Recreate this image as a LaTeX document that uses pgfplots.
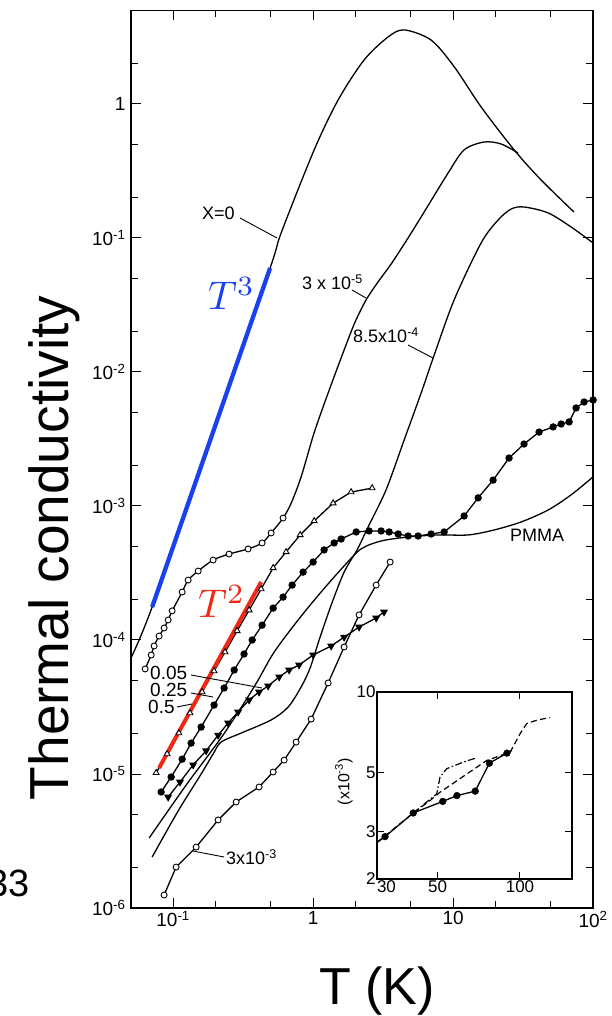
\documentclass[border=0pt]{standalone}
\usepackage{graphicx}
\usepackage{fontspec}
\setmainfont{Liberation Sans}
\usepackage{pgfplots}
\pgfplotsset{compat=1.18}
\definecolor{tblue}{RGB}{25,65,240}
\definecolor{tred}{RGB}{240,40,20}
\newcommand{\fs}[1]{\fontsize{#1}{#1}\selectfont}
\newcommand{\tlab}[1]{\fontsize{19}{19}\selectfont #1}
\newcommand{\ilab}[1]{\fontsize{17}{17}\selectfont #1}
\begin{document}
\begin{tikzpicture}[x=1pt,y=1pt]
\path[use as bounding box] (0,0) rectangle (611,1016);
\begin{axis}[
  at={(131pt,108pt)}, anchor=south west,
  scale only axis, width=462.1pt, height=897.7pt,
  xmode=log, ymode=log,
  xmin=0.05, xmax=100, ymin=1e-6, ymax=5,
  xtick={0.1,1,10,100},
  xticklabels={\tlab{10\textsuperscript{-1}},\tlab{1},\tlab{10},\tlab{10\textsuperscript{2}}},
  ytick={1e-6,1e-5,1e-4,1e-3,1e-2,1e-1,1},
  yticklabels={\tlab{10\textsuperscript{-6}},\tlab{10\textsuperscript{-5}},\tlab{10\textsuperscript{-4}},\tlab{10\textsuperscript{-3}},\tlab{10\textsuperscript{-2}},\tlab{10\textsuperscript{-1}},\tlab{1}},
  minor xtick={0.2,0.5,2,5,20,50},
  minor ytick={2e-6,5e-6,2e-5,5e-5,2e-4,5e-4,2e-3,5e-3,2e-2,5e-2,0.2,0.5,2},
  tick align=inside,
  major tick length=10pt, minor tick length=7pt,
  tick style={black, line width=1pt},
  axis line style={line width=1.3pt},
  yticklabel style={xshift=-2pt},
]
% X = 0
\addplot[black, line width=1.3pt, smooth] coordinates {
(0.05,7.34e-5) (0.0708,1.762e-4) (0.187,3.21e-3) (0.493,5.97e-2) (0.591,0.109) (1.017,0.454) (1.509,1.071) (2.313,2.13) (3.43,3.16) (4.47,3.57) (6.96,3.0) (10.2,1.89) (15.85,0.95) (27.3,0.454) (42.5,0.271) (73.1,0.156)};
% 3e-5 (circles + smooth)
\addplot[black, line width=1.3pt, smooth] coordinates {
(0.0631,6.08e-5) (0.0697,7.73e-5) (0.0731,9.02e-5) (0.0794,1.07e-4) (0.0862,1.23e-4) (0.0921,1.41e-4) (0.0984,1.65e-4) (0.116,2.28e-4) (0.128,2.80e-4) (0.151,3.27e-4) (0.193,3.95e-4) (0.251,4.38e-4) (0.343,4.78e-4) (0.432,5.30e-4) (0.501,6.29e-4) (0.610,8.13e-4)
(0.697,1.05e-3) (0.821,1.65e-3) (1.016,3.51e-3) (1.28,6.97e-3) (1.665,1.46e-2) (1.995,2.36e-2) (2.39,3.45e-2) (2.91,4.70e-2) (3.61,6.40e-2) (4.62,9.50e-2) (5.91,0.1435) (9.21,0.3055) (11.98,0.454) (16.6,0.520) (22.0,0.503) (29.1,0.431)};
% 8.5e-4
\addplot[black, line width=1.3pt, smooth] coordinates {
(0.0708,2.40e-6) (0.0891,3.69e-6) (0.114,5.77e-6) (0.1585,1.0e-5) (0.193,1.41e-5) (0.220,1.73e-5) (0.306,2.02e-5) (0.501,2.53e-5) (0.663,3.16e-5) (0.821,4.46e-5) (0.952,6.18e-5) (1.104,1.0e-4) (1.345,1.82e-4) (1.665,3.21e-4) (2.06,4.70e-4) (2.47,6.97e-4) (3.32,1.32e-3) (4.47,3.11e-3) (5.91,6.97e-3) (7.20,1.27e-2) (10.17,3.45e-2) (15.85,9.18e-2) (20.96,0.1362) (26.0,0.1645) (32.1,0.1703) (47.7,0.1538) (69.6,0.1208) (100,0.0918)};
% PMMA
\addplot[black, line width=1.3pt, smooth] coordinates {
(0.0674,3.33e-6) (0.124,8.28e-6) (0.220,1.86e-5) (0.321,3.39e-5) (0.405,5.03e-5) (0.527,8.13e-5) (0.781,1.41e-4) (1.14,2.28e-4) (1.665,3.57e-4) (2.20,4.78e-4) (3.06,5.48e-4) (4.77,5.87e-4) (7.81,6.08e-4) (12.8,6.08e-4) (19.6,6.62e-4) (30.6,7.60e-4) (47.7,9.33e-4) (69.6,1.21e-3) (100,1.65e-3)};
% 0.25 filled circles
\addplot[black, line width=1.3pt, mark=*, mark size=3pt] coordinates {
(0.0821,7.34e-6) (0.0968,9.50e-6) (0.116,1.29e-5) (0.1344,1.70e-5) (0.1585,2.24e-5) (0.196,3.27e-5) (0.2313,4.38e-5) (0.273,5.97e-5) (0.321,7.86e-5) (0.367,1.0e-4) (0.432,1.29e-4) (0.518,1.73e-4) (0.610,2.09e-4) (0.708,2.57e-4) (0.848,3.21e-4) (1.0,3.82e-4) (1.198,4.70e-4) (1.413,5.30e-4) (1.585,5.67e-4) (2.03,6.40e-4) (2.51,6.51e-4) (3.06,6.51e-4) (3.49,6.40e-4) (4.05,6.18e-4) (4.77,5.97e-4) (5.62,5.97e-4) (6.96,6.18e-4) (8.63,6.40e-4) (11.98,8.42e-4) (15.1,1.15e-3) (19.3,1.56e-3) (25.1,2.28e-3) (32.1,2.90e-3) (41.1,3.56e-3) (51.8,3.89e-3) (59.1,4.09e-3) (67.4,4.24e-3) (75.6,5.39e-3) (86.2,5.97e-3) (100,6.18e-3)};
% 0.5 open triangles
\addplot[black, line width=1.3pt, mark=triangle*, mark size=3.4pt, mark options={fill=white, line width=0.9pt}] coordinates {
(0.0756,1.02e-5) (0.0906,1.41e-5) (0.110,2.02e-5) (0.132,2.85e-5) (0.161,4.09e-5) (0.196,5.87e-5) (0.235,8.13e-5) (0.2865,1.17e-4) (0.349,1.67e-4) (0.425,2.40e-4) (0.518,3.45e-4) (0.641,4.54e-4) (0.808,6.08e-4) (1.017,7.73e-4) (1.389,1.05e-3) (1.868,1.27e-3) (2.64,1.36e-3)};
% 0.05 filled triangles
\addplot[black, line width=1.3pt, mark=triangle*, mark size=3.4pt, mark options={rotate=180}] coordinates {
(0.0921,6.73e-6) (0.112,8.71e-6) (0.139,1.17e-5) (0.172,1.49e-5) (0.2096,1.95e-5) (0.247,2.40e-5) (0.291,2.90e-5) (0.349,3.57e-5) (0.411,4.09e-5) (0.477,4.54e-5) (0.572,5.30e-5) (0.674,5.97e-5) (0.794,6.51e-5) (1.0,7.73e-5) (1.345,9.02e-5) (1.665,1.05e-4) (2.13,1.25e-4) (2.82,1.46e-4) (3.21,1.62e-4)};
% 3e-3 open circles
\addplot[black, line width=1.3pt, mark=*, mark size=3pt, mark options={fill=white, line width=0.9pt}] coordinates {
(0.0862,1.25e-6) (0.105,2.02e-6) (0.146,2.85e-6) (0.2096,4.54e-6) (0.282,6.18e-6) (0.411,8.00e-6) (0.518,1.035e-5) (0.621,1.27e-5) (0.756,1.73e-5) (0.968,2.57e-5) (1.28,4.78e-5) (1.665,8.87e-5) (2.13,1.54e-4) (2.82,2.57e-4) (3.55,3.82e-4)};
% 3e-5 circle markers
\addplot[only marks, mark=*, mark size=3pt, mark options={fill=white, draw=black, line width=0.9pt}] coordinates {
(0.0631,6.08e-5) (0.0697,7.73e-5) (0.0731,9.02e-5) (0.0794,1.07e-4) (0.0862,1.23e-4) (0.0921,1.41e-4) (0.0984,1.65e-4) (0.116,2.28e-4) (0.128,2.80e-4) (0.151,3.27e-4) (0.193,3.95e-4) (0.251,4.38e-4) (0.343,4.78e-4) (0.432,5.30e-4) (0.501,6.29e-4) (0.610,8.13e-4)};
% T^3 and T^2 guides
\addplot[tblue, line width=4.3pt] coordinates {(0.0708,1.762e-4) (0.493,5.97e-2)};
\addplot[tred, line width=4pt] coordinates {(0.0794,1.109e-5) (0.425,2.71e-4)};
\end{axis}

% inset
\begin{axis}[
  at={(377pt,137pt)}, anchor=south west,
  scale only axis, width=195pt, height=187pt,
  xmode=log, ymode=log, xmin=30, xmax=155, ymin=2, ymax=10,
  xtick={30,50,100}, xticklabels={\makebox[0pt][l]{\ilab{30}},\ilab{50},\ilab{100}},
  ytick={2,3,5,10}, yticklabels={\ilab{2},\ilab{3},\ilab{5},\ilab{10}},
  tick align=inside, major tick length=7pt,
  tick style={black, line width=1pt},
  xticklabel style={yshift=2pt},
  yticklabel style={xshift=2pt},
  axis line style={line width=1.2pt},
  axis background/.style={fill=white},
  ylabel={\fontsize{16}{16}\selectfont (x10\textsuperscript{-3})},
  ylabel style={at={(axis description cs:-0.17,0.52)}, anchor=center},
]
\addplot[black, line width=1.2pt, dash pattern=on 6pt off 3.5pt] coordinates {
(30,2.74) (40.7,3.53) (46.9,3.93) (51.0,4.22) (75.6,5.55) (92.1,5.96) (100.3,7.01) (106,7.63) (115.4,7.85) (129,8.03)};
\addplot[black, line width=1.2pt, dash pattern=on 7pt off 2.5pt on 1.5pt off 2.5pt] coordinates {
(40.7,3.53) (49.6,4.16) (51.0,4.81) (54.0,5.17) (62.1,5.47) (69.5,5.68)};
\addplot[black, line width=1.3pt] coordinates {
(30,2.74) (32.1,2.88) (40.7,3.53) (52.2,3.90) (58.8,4.10) (68.6,4.26) (77.3,5.42) (89.6,5.91) (93.4,6.05)};
\addplot[only marks, mark=*, mark size=3.4pt] coordinates {
(32.1,2.88) (40.7,3.53) (52.2,3.90) (58.8,4.10) (68.6,4.26) (77.3,5.42) (89.6,5.91)};
\end{axis}

% annotations
\begin{scope}[font=\fs{18}]
\node[anchor=base west, inner sep=0] at (202,796) {X=0};
\draw[line width=0.9pt] (240,798) -- (277,778);
\node[anchor=base west, inner sep=0] at (302,726) {3 x 10\textsuperscript{-5}};
\draw[line width=0.9pt] (352,726) -- (366,718);
\node[anchor=base west, inner sep=0] at (353,673) {8.5x10\textsuperscript{-4}};
\draw[line width=0.9pt] (408,671) -- (433,658);
\node[anchor=base west, inner sep=0, font=\fs{19}] at (150,336) {0.05};
\draw[line width=0.9pt] (191,341) -- (262,328);
\node[anchor=base west, inner sep=0, font=\fs{19}] at (150,319) {0.25};
\draw[line width=0.9pt] (191,323) -- (213,319);
\node[anchor=base west, inner sep=0, font=\fs{19}] at (148,302) {0.5};
\draw[line width=0.9pt] (177,309) -- (192,312);
\node[anchor=base west, inner sep=0] at (226,151) {3x10\textsuperscript{-3}};
\draw[line width=0.9pt] (193,165) -- (224,159);
\node[anchor=base west, inner sep=0] at (510,474) {PMMA};
\end{scope}
\node[anchor=base west, inner sep=0, text=tblue] at (208,706) {\scalebox{4}{$T^3$}};
\node[anchor=base west, inner sep=0, text=tred] at (198,398) {\scalebox{4}{$T^2$}};
\node[anchor=base, inner sep=0, rotate=90, font=\fs{55}] at (68,468) {Thermal conductivity};
\node[anchor=base, inner sep=0, font=\fs{52}] at (377,11) {T (K)};
\node[anchor=base east, inner sep=0, font=\fs{38}] at (30,119) {33};
\end{tikzpicture}
\end{document}
